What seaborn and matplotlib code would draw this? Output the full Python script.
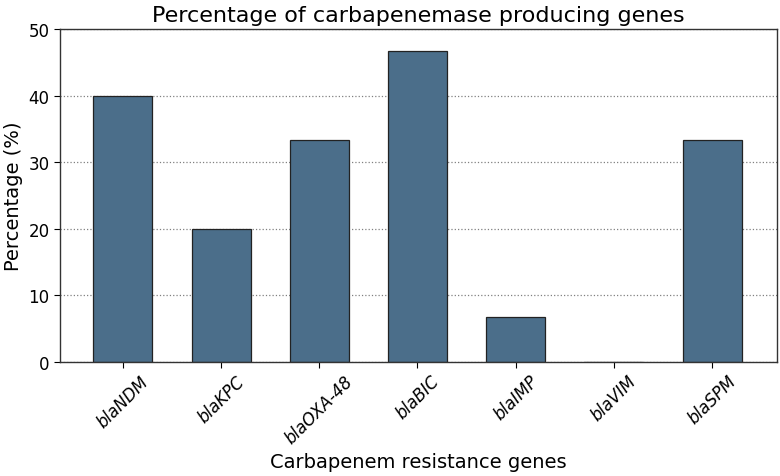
import matplotlib.pyplot as plt
import pandas as pd
import seaborn as sns

genes = ["blaNDM", "blaKPC", "blaOXA-48", "blaBIC", "blaIMP", "blaVIM", "blaSPM"]
percent = [40.0, 20.0, 33.33, 46.67, 6.67, 0.0, 33.33]

df = pd.DataFrame({"gene": genes, "pct": percent})

sns.set_style("white")
plt.rcParams["font.family"] = ["DejaVu Sans"]
plt.rcParams["text.color"] = "black"
plt.rcParams["axes.labelcolor"] = "black"
plt.rcParams["xtick.color"] = "black"
plt.rcParams["ytick.color"] = "black"

fig, ax = plt.subplots(figsize=(7.8, 4.77), dpi=100)

sns.barplot(data=df, x="gene", y="pct", color="#4b6e8a", saturation=1,
            width=0.6, edgecolor="#222222", linewidth=0.9, ax=ax)

ax.set_xlim(-0.64, 6.66)
ax.set_ylim(0, 50)
ax.yaxis.grid(True, linestyle=":", color="gray", linewidth=0.9)
ax.set_axisbelow(True)
for s in ax.spines.values():
    s.set_color("#333333")
    s.set_linewidth(1.0)

ax.set_title("Percentage of carbapenemase producing genes", fontsize=16)
ax.set_xlabel("Carbapenem resistance genes", fontsize=14)
ax.set_ylabel("Percentage (%)", fontsize=14)
ax.tick_params(axis="both", labelsize=12, length=4, bottom=True, left=True)
plt.setp(ax.get_xticklabels(), rotation=45, style="italic")

plt.subplots_adjust(left=0.077, right=0.996, top=0.937, bottom=0.24)
plt.savefig("out.png", dpi=100)
